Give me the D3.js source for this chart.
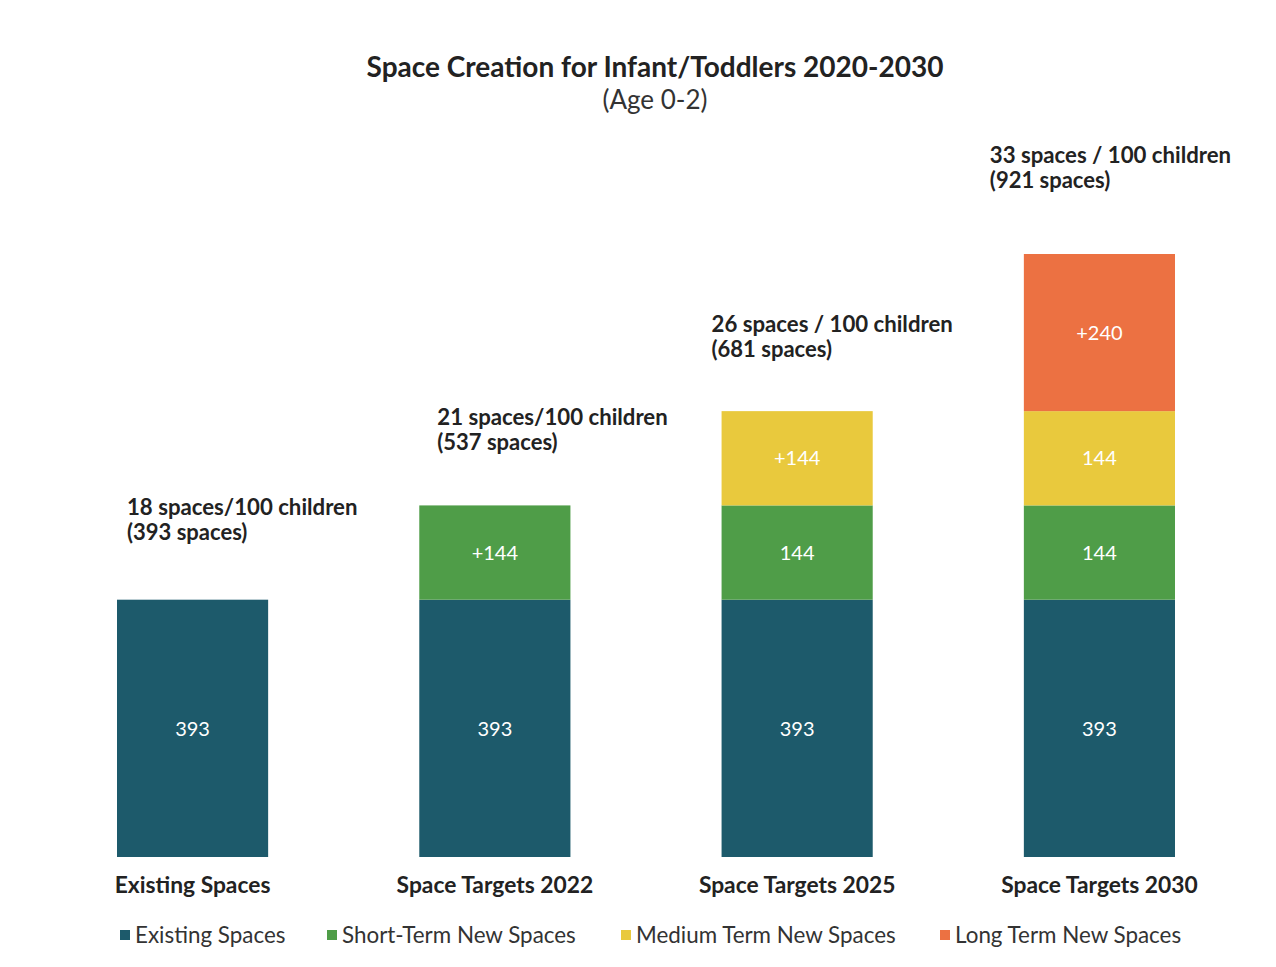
<!DOCTYPE html>
<html>
<head>
<meta charset="utf-8">
<script src="https://cdn.jsdelivr.net/npm/d3@7"></script>
<style>
  html, body { margin: 0; padding: 0; background: #fff; }
  svg { display: block; }
  text { font-family: Lato, "Open Sans", sans-serif; }
</style>
</head>
<body>
<svg id="chart" width="1276" height="967"></svg>
<script>
// Categories along the x axis
const categories = ["Existing Spaces", "Space Targets 2022", "Space Targets 2025", "Space Targets 2030"];

// Stacked series (spaces per category)
const seriesNames = ["Existing Spaces", "Short-Term New Spaces", "Medium Term New Spaces", "Long Term New Spaces"];
const existingSpaces = [393, 393, 393, 393];
const shortTermSpaces = [0, 144, 144, 144];
const mediumTermSpaces = [0, 0, 144, 144];
const longTermSpaces = [0, 0, 0, 240];

// Headline annotations above each bar
const ratioLabels = ["18 spaces/100 children", "21 spaces/100 children", "26 spaces / 100 children", "33 spaces / 100 children"];
const totalSpaces = [393, 537, 681, 921];

const colors = ["#1d5a6b", "#4f9d48", "#e9c93d", "#ec7142"];

const svg = d3.select("#chart");

const rows = categories.map((c, i) => ({
  category: c,
  "Existing Spaces": existingSpaces[i],
  "Short-Term New Spaces": shortTermSpaces[i],
  "Medium Term New Spaces": mediumTermSpaces[i],
  "Long Term New Spaces": longTermSpaces[i]
}));

const stacked = d3.stack().keys(seriesNames)(rows);

const x = d3.scaleBand()
  .domain(categories)
  .range([117, 1175])
  .paddingInner(0.5)
  .paddingOuter(0);

const y = d3.scaleLinear()
  .domain([0, 921])
  .range([857, 254]);

const color = d3.scaleOrdinal().domain(seriesNames).range(colors);

// Title
svg.append("text")
  .attr("x", 655).attr("y", 77)
  .attr("text-anchor", "middle")
  .attr("font-size", 28).attr("font-weight", 700)
  .attr("fill", "#222")
  .text("Space Creation for Infant/Toddlers 2020-2030");
svg.append("text")
  .attr("x", 655).attr("y", 109)
  .attr("text-anchor", "middle")
  .attr("font-size", 26).attr("font-weight", 400)
  .attr("fill", "#333")
  .text("(Age 0-2)");

// Bars
const layer = svg.append("g").selectAll("g")
  .data(stacked)
  .join("g")
  .attr("fill", d => color(d.key));

layer.selectAll("rect")
  .data(d => d.filter(s => s[1] - s[0] > 0))
  .join("rect")
  .attr("x", d => x(d.data.category))
  .attr("y", d => y(d[1]))
  .attr("width", x.bandwidth())
  .attr("height", d => y(d[0]) - y(d[1]));

// Segment value labels: the topmost segment of each bar is shown as an increment
stacked.forEach((series, si) => {
  series.forEach((seg, ci) => {
    const v = seg[1] - seg[0];
    if (v <= 0) return;
    const isTop = seg[1] === totalSpaces[ci];
    const label = (isTop && si > 0) ? "+" + v : String(v);
    svg.append("text")
      .attr("x", x(seg.data.category) + x.bandwidth() / 2)
      .attr("y", (y(seg[0]) + y(seg[1])) / 2)
      .attr("dy", "0.36em")
      .attr("text-anchor", "middle")
      .attr("font-size", 20)
      .attr("fill", "#fff")
      .text(label);
  });
});

// Annotations above bars
const annotDx = [10, 18, -10, -34];
const annotDy = [-85, -80, -79, -91];
categories.forEach((c, i) => {
  const tx = x(c) + annotDx[i];
  const ty = y(totalSpaces[i]) + annotDy[i];
  svg.append("text")
    .attr("x", tx).attr("y", ty)
    .attr("font-size", 22.2).attr("font-weight", 700)
    .attr("fill", "#222")
    .text(ratioLabels[i]);
  svg.append("text")
    .attr("x", tx).attr("y", ty + 25)
    .attr("font-size", 22).attr("font-weight", 700)
    .attr("fill", "#222")
    .text("(" + totalSpaces[i] + " spaces)");
});

// Category axis labels
const xAxis = svg.append("g")
  .attr("transform", "translate(0,857)")
  .call(d3.axisBottom(x).tickSize(0).tickPadding(0));
xAxis.select(".domain").remove();
xAxis.selectAll("text")
  .attr("y", 36)
  .attr("dy", 0)
  .attr("font-family", "Lato, sans-serif")
  .attr("font-size", 22.8).attr("font-weight", 700)
  .attr("fill", "#222");

// Legend
const legendX = [120, 327, 621, 940];
const legend = svg.append("g").selectAll("g")
  .data(seriesNames)
  .join("g")
  .attr("transform", (d, i) => `translate(${legendX[i]},935)`);
legend.append("rect")
  .attr("x", 0).attr("y", -5)
  .attr("width", 10).attr("height", 10)
  .attr("fill", d => color(d));
legend.append("text")
  .attr("x", 15).attr("dy", "0.35em")
  .attr("font-size", 22.4).attr("fill", "#333")
  .text(d => d);
</script>
</body>
</html>
